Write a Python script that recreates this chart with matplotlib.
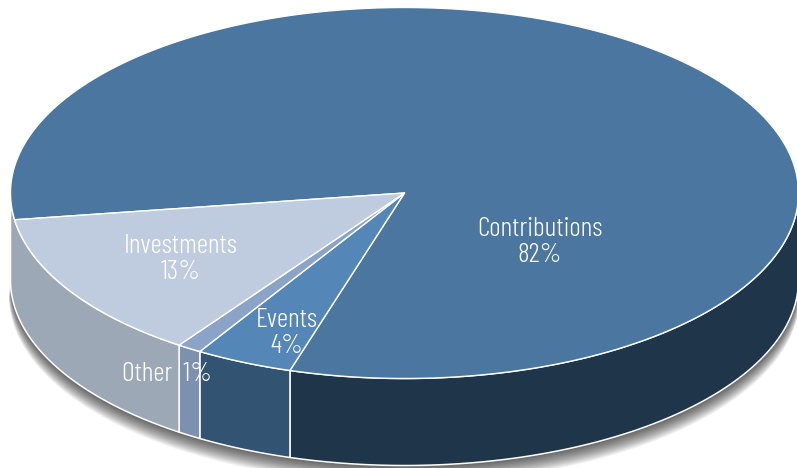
import numpy as np
import matplotlib
matplotlib.use("Agg")
import matplotlib.pyplot as plt

plt.rcParams["font.family"] = ["Barlow Condensed", "Liberation Sans", "DejaVu Sans"]

labels = ["Contributions", "Events", "Other", "Investments"]
shares = [82, 4, 1, 13]
top_colors = ["#4a769f", "#5586b8", "#8aa3c6", "#bfcbde"]
side_colors = ["#1f3549", "#335372", "#7d90b0", "#9ca8b6"]

CX, CY = 404.5, 193
RX, RY = 394, 185.5
DEPTH = 87
# angle clockwise on screen, measured from straight down, where the first slice ends
FIRST_END = 16.9


def rim(a0, a1, n=200):
    # a is degrees going clockwise on screen from the bottom of the ellipse
    t = np.radians(np.linspace(a0, a1, n))
    return CX - RX * np.sin(t), CY + RY * np.cos(t)


fig = plt.figure(figsize=(7.97, 4.68), dpi=100)
ax = fig.add_axes([0, 0, 1, 1])
ax.set_xlim(0, 797)
ax.set_ylim(468, 0)
ax.axis("off")

sweeps = [s / sum(shares) * 360 for s in shares]
ends = [FIRST_END]
for s in sweeps[1:]:
    ends.append(ends[-1] + s)
starts = [e - s for e, s in zip(ends, sweeps)]

# soft shadow under the front of the body
t = np.radians(np.linspace(-90, 90, 300))
for k in range(1, 17):
    xs = CX - (RX + k * 0.1) * np.sin(t)
    ys = CY + DEPTH + k + (RY + k * 0.1) * np.cos(t)
    ax.fill(np.r_[xs, CX + RX, CX - RX], np.r_[ys, CY, CY],
            color="black", alpha=0.05, lw=0, zorder=1)

# side walls, only the front half can be seen; the left end of the wall
# keeps the last slice's colour in the reference
for i, (a0, a1, col) in enumerate(zip(starts, ends, side_colors)):
    lo = max(a0, -90)
    hi = 90 if i == len(shares) - 1 else min(a1, 90)
    x, y = rim(lo, hi)
    ax.fill(np.r_[x, x[::-1]], np.r_[y, y[::-1] + DEPTH], facecolor=col,
            edgecolor="white", lw=1.1, zorder=2, joinstyle="round")

# top slices
for a0, a1, col in zip(starts, ends, top_colors):
    x, y = rim(a0, a1, 500)
    ax.fill(np.r_[CX, x], np.r_[CY, y], facecolor=col,
            edgecolor="white", lw=1.0, zorder=3, joinstyle="round")

text_opts = dict(color="white", ha="center", va="center", fontsize=20, zorder=5,
                 linespacing=1.12, fontweight=300)
ax.text(540, 242, f"{labels[0]}\n{shares[0]}%", **text_opts)
ax.text(287, 333, f"{labels[1]}\n{shares[1]}%", **text_opts)
ax.text(181, 259, f"{labels[3]}\n{shares[3]}%", **text_opts)
ax.text(167, 374, f"{labels[2]}  {shares[2]}%", **text_opts)

fig.savefig("out.png", dpi=100)
plt.close(fig)
